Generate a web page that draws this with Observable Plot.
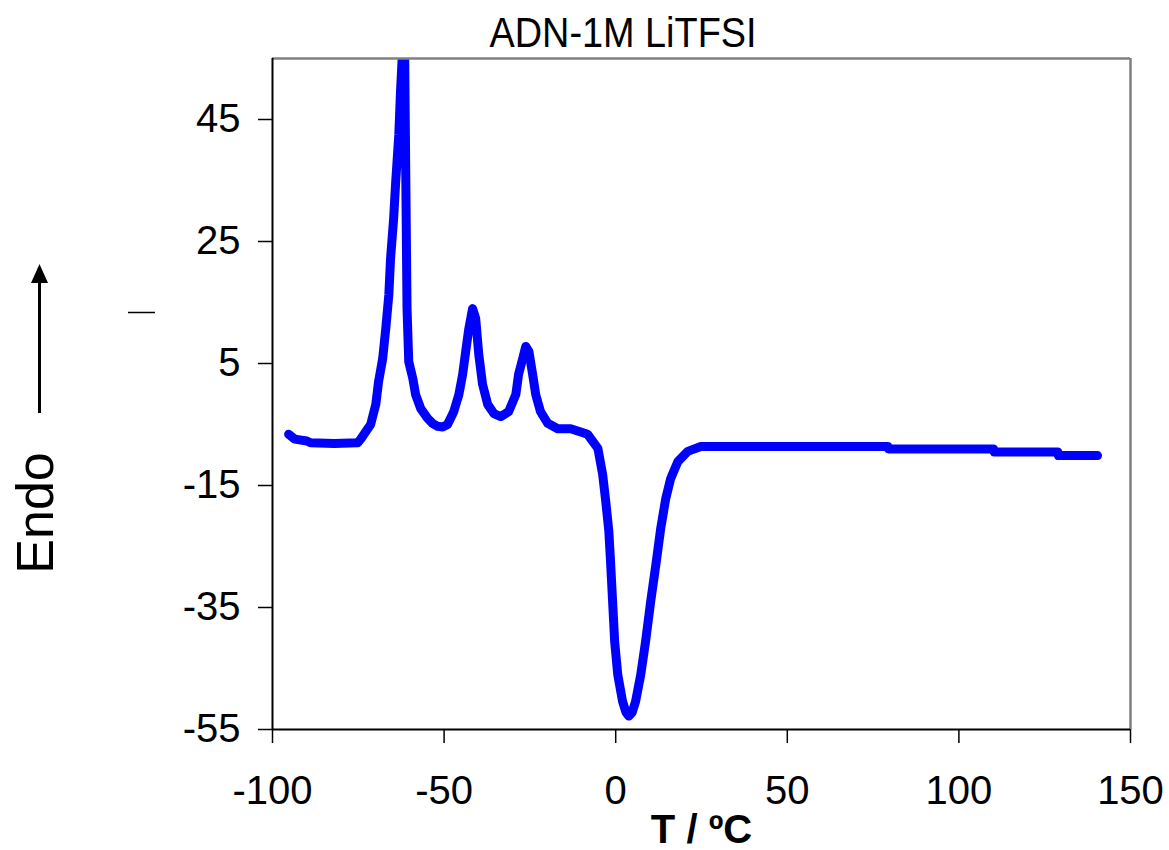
<!DOCTYPE html>
<html>
<head>
<meta charset="utf-8">
<script src="https://cdn.jsdelivr.net/npm/d3@7"></script>
<script src="https://cdn.jsdelivr.net/npm/@observablehq/plot@0.6"></script>
<style>
  html, body { margin: 0; padding: 0; background: white; }
  #wrap { position: relative; width: 1169px; height: 850px; font-family: "Liberation Sans", Arial, sans-serif; }
  #title { position: absolute; left: 623px; top: 11px; font-size: 43px; line-height: 43px; white-space: nowrap;
           transform: translateX(-50%) scaleX(0.88); transform-origin: center; color: #000; }
  #overlay { position: absolute; left: 0; top: 0; pointer-events: none; }
</style>
</head>
<body>
<div id="wrap">
  <div id="chart"></div>
  <div id="title">ADN-1M LiTFSI</div>
  <svg id="overlay" width="1169" height="850">
    <text transform="translate(53,513) rotate(-90)" text-anchor="middle" font-family="Liberation Sans, Arial, sans-serif" font-size="52" fill="#000">Endo</text>
    <line x1="39.5" y1="413" x2="39.5" y2="280" stroke="#000" stroke-width="3"/>
    <polygon points="39.5,264 31,283 48,283" fill="#000"/>
    <line x1="128" y1="312.5" x2="155" y2="312.5" stroke="#000" stroke-width="1.5"/>
  </svg>
</div>
<script>
// Temperature (°C)
const temperature = [
  -95.3, -93.5, -90.0, -88.9, -82.0, -75.2, -74.3, -71.4, -69.9, -69.1,
  -67.9, -67.0, -66.1, -65.6, -64.7, -64.1, -63.2, -62.7, -61.6, -60.8,
  -60.3, -59.1, -58.3, -56.8, -54.8, -53.4, -51.9, -50.4, -49.0, -47.2, -45.7, -44.6,
  -43.7, -42.8, -41.7, -40.8, -39.9, -38.8, -37.3, -35.5, -33.5, -31.2,
  -29.1, -28.3, -27.1, -26.2, -25.3, -24.2, -23.3, -21.9, -19.8, -16.9,
  -13.1, -8.2, -5.2, -3.8, -2.9, -2.0, -1.5, -0.9, -0.3, 0.6,
  2.0, 3.0, 3.8, 4.8, 5.8, 7.3, 8.7, 10.2, 11.7, 13.1, 14.6, 16.0,
  18.1, 21.0, 24.8, 79.3, 79.5, 110.1, 110.3, 128.8, 129.0, 140.4
];
// Heat flow (endo up)
const heatFlow = [
  -6.6, -7.4, -7.7, -8.0, -8.1, -8.0, -7.4, -5.0, -1.7, 2.0,
  5.8, 10.7, 16.3, 22.2, 28.8, 34.8, 42.5, 49.6, 62.0, 14.0,
  5.3, 2.5, -0.1, -2.4, -4.0, -4.8, -5.3, -5.4, -5.0, -2.9, -0.1, 3.2,
  7.0, 10.7, 14.0, 12.4, 6.5, 1.6, -1.7, -3.2, -3.7, -2.9,
  -0.1, 3.2, 5.8, 7.8, 7.0, 3.2, -0.1, -2.9, -4.8, -5.7,
  -5.7, -6.6, -8.9, -13.2, -17.6, -22.5, -27.5, -34.0, -40.6, -46.0,
  -50.4, -52.2, -52.8, -52.2, -50.4, -46.0, -40.6, -34.0, -28.0, -22.1, -17.1, -13.9,
  -11.1, -9.4, -8.6, -8.6, -9.0, -9.0, -9.5, -9.5, -10.1, -10.1
];
const xTicks = [-100, -50, 0, 50, 100, 150];
const yTicks = [-55, -35, -15, 5, 25, 45];

const data = temperature.map((t, i) => ({t, h: heatFlow[i]}));

const chart = Plot.plot({
  width: 1169,
  height: 850,
  marginTop: 58,
  marginBottom: 121,
  marginLeft: 272,
  marginRight: 39,
  style: {fontFamily: "Liberation Sans, Arial, sans-serif", background: "white", color: "black"},
  x: {domain: [-100, 150]},
  y: {domain: [-55, 55]},
  marks: [
    Plot.line(data, {x: "t", y: "h", stroke: "#0000ff", strokeWidth: 9, clip: true,
      strokeLinejoin: "round", strokeLinecap: "round"}),
    Plot.ruleY([55], {stroke: "#808080", strokeWidth: 2.5}),
    Plot.ruleX([150], {stroke: "#808080", strokeWidth: 2.5}),
    Plot.ruleX([-100], {stroke: "black", strokeWidth: 2}),
    Plot.ruleY([-55], {stroke: "black", strokeWidth: 2}),
    Plot.axisX({ticks: xTicks, tickSize: 14, tickPadding: 32, fontSize: 40, strokeWidth: 1.5,
      tickFormat: d => String(d), label: null}),
    Plot.axisY({ticks: yTicks, tickSize: 14, tickPadding: 18, fontSize: 40, strokeWidth: 1.5,
      tickFormat: d => String(d), label: null}),
    Plot.text(["T / ºC"], {frameAnchor: "bottom", dy: 113, fontSize: 40, fontWeight: "bold", lineAnchor: "bottom"})
  ]
});
document.getElementById("chart").appendChild(chart);
</script>
</body>
</html>
